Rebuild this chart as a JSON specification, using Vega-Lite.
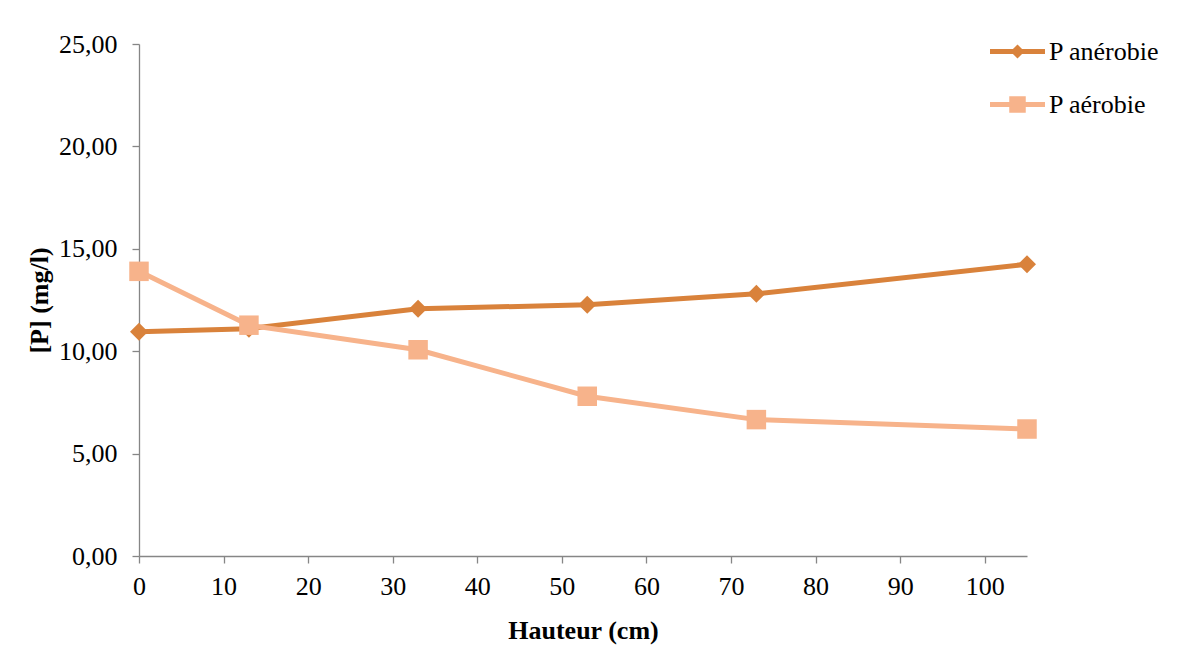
{
  "$schema": "https://vega.github.io/schema/vega-lite/v6.json",
  "width": 888,
  "height": 512,
  "autosize": {"type": "none"},
  "padding": {"left": 139, "top": 44, "right": 175, "bottom": 95},
  "background": "white",
  "config": {
    "font": "Liberation Serif",
    "locale": {"number": {"decimal": ",", "thousands": " ", "grouping": [3], "currency": ["", " €"]}},
    "view": {"stroke": null},
    "axis": {
      "grid": false,
      "domainColor": "#868686",
      "domainWidth": 1.3,
      "tickColor": "#868686",
      "tickWidth": 1.3,
      "tickSize": 7,
      "labelFont": "Liberation Serif",
      "labelFontSize": 26,
      "labelColor": "#000000",
      "titleFont": "Liberation Serif",
      "titleFontSize": 26,
      "titleFontWeight": "bold",
      "titleColor": "#000000"
    }
  },
  "data": {
    "values": [
      {"h": 0, "p": 10.95, "serie": "P anérobie"},
      {"h": 13, "p": 11.10, "serie": "P anérobie"},
      {"h": 33, "p": 12.07, "serie": "P anérobie"},
      {"h": 53, "p": 12.27, "serie": "P anérobie"},
      {"h": 73, "p": 12.80, "serie": "P anérobie"},
      {"h": 105, "p": 14.25, "serie": "P anérobie"},
      {"h": 0, "p": 13.90, "serie": "P aérobie"},
      {"h": 13, "p": 11.27, "serie": "P aérobie"},
      {"h": 33, "p": 10.07, "serie": "P aérobie"},
      {"h": 53, "p": 7.80, "serie": "P aérobie"},
      {"h": 73, "p": 6.66, "serie": "P aérobie"},
      {"h": 105, "p": 6.20, "serie": "P aérobie"}
    ]
  },
  "encoding": {
    "x": {
      "field": "h", "type": "quantitative",
      "scale": {"domain": [0, 105], "nice": false, "zero": false},
      "axis": {"values": [0, 10, 20, 30, 40, 50, 60, 70, 80, 90, 100], "title": "Hauteur (cm)", "labelFlush": false, "labelPadding": 10, "titlePadding": 18}
    },
    "y": {
      "field": "p", "type": "quantitative",
      "scale": {"domain": [0, 25], "nice": false},
      "axis": {"values": [0, 5, 10, 15, 20, 25], "format": ".2f", "title": "[P] (mg/l)", "labelFlush": false, "labelPadding": 15, "titlePadding": 6}
    },
    "color": {
      "field": "serie", "type": "nominal",
      "scale": {"domain": ["P anérobie", "P aérobie"], "range": ["#D9823B", "#F7B38B"]},
      "legend": {
        "title": null,
        "orient": "none",
        "legendX": 851,
        "legendY": -20,
        "padding": 0,
        "rowPadding": 12,
        "symbolSize": 3025,
        "symbolStrokeWidth": 0,
        "labelFont": "Liberation Serif",
        "labelFontSize": 26,
        "labelColor": "#000000",
        "labelOffset": 4,
        "encode": {
          "symbols": {
            "update": {
              "fill": {"scale": "color", "field": "value"},
              "stroke": {"value": "transparent"},
              "opacity": {"value": 1},
              "shape": {"signal": "datum.value === 'P anérobie' ? 'M-1,-0.09L-0.165,-0.09L0,-0.255L0.165,-0.09L1,-0.09L1,0.09L0.165,0.09L0,0.255L-0.165,0.09L-1,0.09Z' : 'M-1,-0.09L-0.3,-0.09L-0.3,-0.3L0.3,-0.3L0.3,-0.09L1,-0.09L1,0.09L0.3,0.09L0.3,0.3L-0.3,0.3L-0.3,0.09L-1,0.09Z'"}
            }
          }
        }
      }
    }
  },
  "layer": [
    {
      "mark": {"type": "line", "strokeWidth": 5, "strokeJoin": "round", "strokeCap": "round"}
    },
    {
      "transform": [{"filter": "datum.serie === 'P anérobie'"}],
      "mark": {"type": "point", "shape": "diamond", "filled": true, "size": 324, "opacity": 1}
    },
    {
      "transform": [{"filter": "datum.serie === 'P aérobie'"}],
      "mark": {"type": "point", "shape": "square", "filled": true, "size": 380, "opacity": 1}
    }
  ]
}
